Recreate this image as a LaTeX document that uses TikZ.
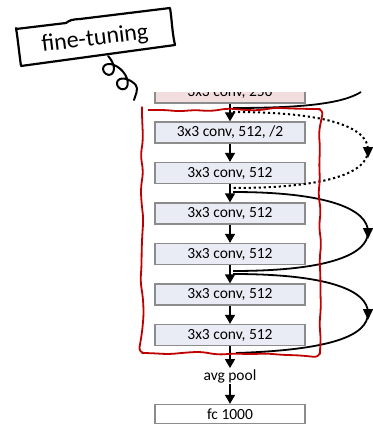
\documentclass[tikz,border=0pt]{standalone}
\usepackage{fontspec}
\setmainfont{Carlito}
\usetikzlibrary{arrows.meta,decorations.pathmorphing}
\definecolor{boxfill}{HTML}{E9ECF4}
\definecolor{boxdraw}{HTML}{8C8C8C}
\definecolor{pinkfill}{HTML}{F2DEDE}
\definecolor{hred}{HTML}{C00000}
\begin{document}
\begin{tikzpicture}[x=1pt,y=-1pt,
  layer/.style={draw=boxdraw, line width=1.3pt, fill=boxfill, minimum width=150pt,
    minimum height=21pt, inner sep=0pt, font=\fontsize{15.5}{17}\selectfont},
  flow/.style={line width=1.5pt, -{Triangle[width=10pt,length=9pt]}},
  skipline/.style={line width=1.8pt},
  dotline/.style={line width=2pt, dash pattern=on 2.2pt off 2.8pt},
  skiptip/.style={line width=1.5pt, -{Triangle[width=10pt,length=11pt]}},
  sketch/.style={line width=2.2pt, line join=round, line cap=round},
  redbox/.style={draw=hred, line width=1.8pt, line join=round}
]
\useasboundingbox (0,0) rectangle (372,428);
\fill[white] (0,0) rectangle (372,428);

% top clipped block
\begin{scope}
  \clip (140,92) rectangle (320,106);
  \node[layer, fill=pinkfill] (b0) at (230,92.5) {3x3 conv, 256};
\end{scope}

\node[layer] (b1) at (230,132.5) {3x3 conv, 512, /2};
\node[layer] (b2) at (230,173) {3x3 conv, 512};
\node[layer] (b3) at (230,213.5) {3x3 conv, 512};
\node[layer] (b4) at (230,254) {3x3 conv, 512};
\node[layer] (b5) at (230,294.5) {3x3 conv, 512};
\node[layer] (b6) at (230,335) {3x3 conv, 512};
\node[inner sep=1pt, font=\fontsize{15.5}{17}\selectfont] (pool) at (230,376) {avg pool};
\node[layer, fill=white, minimum height=19pt] (fc) at (230,414) {fc 1000};

\draw[flow] (b0.south) -- (b1.north);
\draw[flow] (b1.south) -- (b2.north);
\draw[flow] (b2.south) -- (b3.north);
\draw[flow] (b3.south) -- (b4.north);
\draw[flow] (b4.south) -- (b5.north);
\draw[flow] (b5.south) -- (b6.north);
\draw[flow] (b6.south) -- (pool.north);
\draw[flow] (pool.south) -- (fc.north);

% junctions
\coordinate (jin) at (233,108);
\coordinate (j0) at (233,112);
\coordinate (j1a) at (233,188);
\coordinate (j1b) at (233,192);
\coordinate (j2a) at (233,271);
\coordinate (j2b) at (233,274);
\coordinate (j3) at (236,353);
\coordinate (cin) at (361,92);
\coordinate (m1) at (368,150);
\coordinate (m2) at (368,232);
\coordinate (m3) at (368,313);

% incoming skip from previous stage
\draw[skipline] (cin) .. controls (342,104) and (300,108) .. (jin);

% dotted projection shortcut
\draw[dotline] (j0) .. controls (330,112) and (368,128) .. (m1)
  .. controls (368,172) and (330,188) .. (j1a);
\draw[skiptip] (368,147) -- (368,158);

% identity shortcuts
\draw[skipline] (j1b) .. controls (330,192) and (368,210) .. (m2)
  .. controls (368,254) and (330,271) .. (j2a);
\draw[skiptip] (368,228) -- (368,239);
\draw[skipline] (j2b) .. controls (330,274) and (368,291) .. (m3)
  .. controls (368,336) and (330,350) .. (j3);
\draw[skiptip] (368,309) -- (368,320);

% red hand-drawn frame
\pgfmathsetseed{5}
\draw[redbox, decorate, decoration={random steps, segment length=16pt, amplitude=1.7pt}, rounded corners=6pt]
  (142,110) -- (320,109) -- (320,354) -- (142,353) -- cycle;

% fine-tuning label
\draw[sketch] (16,29) -- (66,23) .. controls (70,20) and (72,19.5) .. (80,19) -- (170,8)
  .. controls (172,20) and (172,32) .. (175,45) -- (21,66)
  .. controls (19,52) and (18,40) .. (16,28);
\node[rotate=7, font=\fontsize{24}{26}\selectfont] (ft) at (95,39) {fine-tuning};
% curly string
\draw[line width=2pt, line cap=round, line join=round]
  plot[smooth, domain=0:720, samples=100, variable=\t]
  ({108 + 0.69*(3.2*\t*pi/180 + 10*sin(\t)) + 0.72*(7*cos(\t)-7)},
   {56 + 0.72*(3.2*\t*pi/180 + 10*sin(\t)) - 0.69*(7*cos(\t)-7)})
  .. controls (139,89) and (135,96) .. (134,100);
\end{tikzpicture}
\end{document}
